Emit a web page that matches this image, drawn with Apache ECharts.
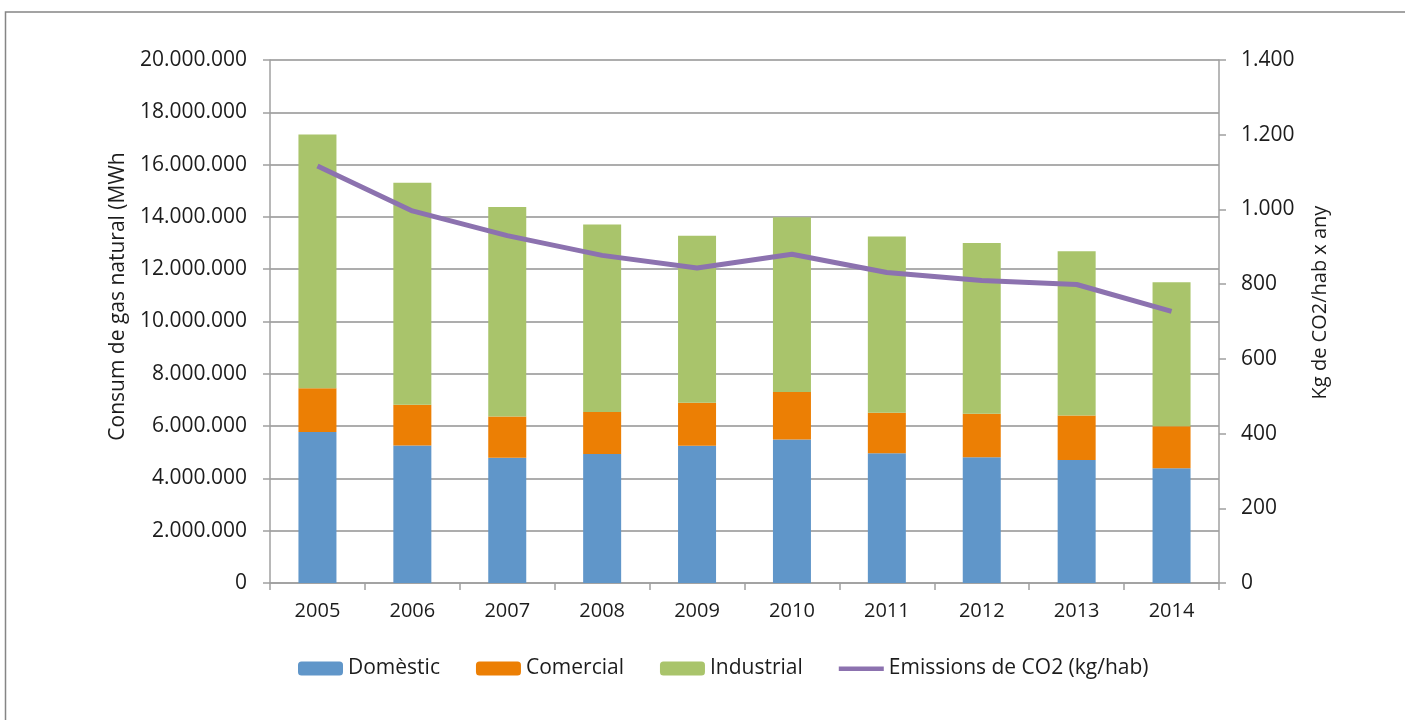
<!DOCTYPE html>
<html>
<head>
<meta charset="utf-8">
<script src="https://cdn.jsdelivr.net/npm/echarts@6/dist/echarts.min.js"></script>
<style>
html,body{margin:0;padding:0;background:#fff;overflow:hidden;}
#chart{width:1405px;height:720px;}
</style>
</head>
<body>
<div id="chart"></div>
<script>
const years = ['2005','2006','2007','2008','2009','2010','2011','2012','2013','2014'];
const domestic = [5770000, 5260000, 4790000, 4930000, 5250000, 5490000, 4960000, 4810000, 4700000, 4390000];
const comercial = [1680000, 1560000, 1580000, 1610000, 1640000, 1810000, 1550000, 1660000, 1710000, 1600000];
const industrial = [9700000, 8490000, 8010000, 7170000, 6390000, 6690000, 6740000, 6530000, 6280000, 5510000];
const emissions = [1116, 996, 930, 877, 843, 880, 831, 810, 799, 727];
const seriesNames = ['Domèstic', 'Comercial', 'Industrial', 'Emissions de CO2 (kg/hab)'];
const leftAxisName = 'Consum de gas natural (MWh';
const rightAxisName = 'Kg de CO2/hab x any';

const fmt = v => String(v).replace(/\B(?=(\d{3})+(?!\d))/g, '.');
const FONT = '"Open Sans", "Liberation Sans", sans-serif';
const TXT = '#1c1c1c';
const GRID = '#adadad';
const AX = '#a0a0a0';
const LINE_ICON = 'path://M0 0L0.01 0M0 5H45V9.5H0ZM0 14L0.01 14';

const chart = echarts.init(document.getElementById('chart'), null, {renderer: 'canvas'});
chart.setOption({
  animation: false,
  backgroundColor: '#fff',
  textStyle: {fontFamily: FONT, color: TXT},
  graphic: [{
    type: 'rect', silent: true, z: -10,
    shape: {x: 5.5, y: 12, width: 1460, height: 780},
    style: {fill: 'none', stroke: '#858585', lineWidth: 1.5}
  }],
  grid: {left: 270, right: 186, top: 60, bottom: 137, containLabel: false},
  legend: {
    left: 293, top: 653,
    itemWidth: 45, itemHeight: 14, itemGap: 36,
    textStyle: {fontFamily: FONT, fontSize: 21, color: TXT},
    data: [
      {name: seriesNames[0]},
      {name: seriesNames[1]},
      {name: seriesNames[2]},
      {name: seriesNames[3], icon: LINE_ICON}
    ]
  },
  xAxis: {
    type: 'category', data: years,
    axisLine: {lineStyle: {color: AX, width: 1.5}},
    axisTick: {show: true, length: 7, lineStyle: {color: AX, width: 1.5}},
    axisLabel: {fontFamily: FONT, fontSize: 20, color: TXT, margin: 18}
  },
  yAxis: [{
    type: 'value', min: 0, max: 20000000, interval: 2000000,
    name: leftAxisName, nameLocation: 'middle', nameRotate: 90, nameGap: 141,
    nameTextStyle: {fontFamily: FONT, fontSize: 21, color: TXT, padding: [0, 0, 0, 50]},
    axisLine: {show: true, lineStyle: {color: AX, width: 1.5}},
    axisTick: {show: true, length: 7, lineStyle: {color: AX, width: 1.5}},
    axisLabel: {fontFamily: FONT, fontSize: 21, color: TXT, margin: 23, formatter: fmt},
    splitLine: {lineStyle: {color: GRID, width: 2}}
  }, {
    type: 'value', min: 0, max: 1400, interval: 200, position: 'right',
    name: rightAxisName, nameLocation: 'middle', nameRotate: 90, nameGap: 91,
    nameTextStyle: {fontFamily: FONT, fontSize: 20, color: TXT, padding: [0, 0, 0, 38]},
    axisLine: {show: true, lineStyle: {color: AX, width: 1.5}},
    axisTick: {show: true, length: 7, lineStyle: {color: AX, width: 1.5}},
    axisLabel: {fontFamily: FONT, fontSize: 21, color: TXT, margin: 22, formatter: fmt},
    splitLine: {show: false}
  }],
  series: [
    {name: seriesNames[0], type: 'bar', stack: 'gas', data: domestic, barWidth: 38,
     itemStyle: {color: '#6096c9'}},
    {name: seriesNames[1], type: 'bar', stack: 'gas', data: comercial, barWidth: 38,
     itemStyle: {color: '#ec7f04'}},
    {name: seriesNames[2], type: 'bar', stack: 'gas', data: industrial, barWidth: 38,
     itemStyle: {color: '#a9c46b'}},
    {name: seriesNames[3], type: 'line', yAxisIndex: 1, data: emissions,
     symbol: 'none', showSymbol: false,
     lineStyle: {color: '#8c72af', width: 5}, itemStyle: {color: '#8c72af'}}
  ]
});
</script>
</body>
</html>
